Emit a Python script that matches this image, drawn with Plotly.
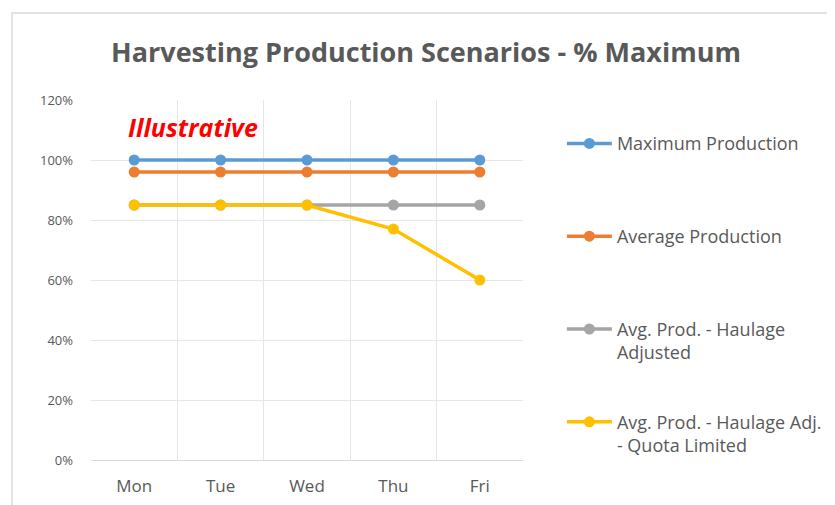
import plotly.graph_objects as go

days = ["Mon", "Tue", "Wed", "Thu", "Fri"]
max_prod = [100, 100, 100, 100, 100]
avg_prod = [96, 96, 96, 96, 96]
haulage_adj = [85, 85, 85, 85, 85]
quota_limited = [85, 85, 85, 77, 60]
y_ticks = [0, 20, 40, 60, 80, 100, 120]
y_tick_text = ["0%", "20%", "40%", "60%", "80%", "100%", "120%"]

series = [
    ("Maximum Production<br> ", max_prod, "#5B9BD5"),
    ("Average Production<br> ", avg_prod, "#ED7D31"),
    ("Avg. Prod. - Haulage<br>Adjusted", haulage_adj, "#A5A5A5"),
    ("Avg. Prod. - Haulage Adj.<br>- Quota Limited", quota_limited, "#FFC000"),
]

FONT = "Open Sans, Lato, sans-serif"
GRAY = "#595959"
fig = go.Figure()
for i, (name, vals, col) in enumerate(series):
    fig.add_trace(go.Scatter(
        x=days, y=vals, name=name, mode="lines+markers",
        line=dict(color=col, width=3.5),
        marker=dict(color=col, size=11),
        legendgroup=f"g{i}",
    ))

fig.update_layout(
    width=835, height=505,
    margin=dict(l=83, r=320, t=92, b=53),
    paper_bgcolor="white", plot_bgcolor="white",
    font=dict(family=FONT, color=GRAY, size=13),
    title=dict(text="<b>Harvesting Production Scenarios - % Maximum</b>",
               x=0.5006, xanchor="center", y=0.911, yanchor="middle",
               font=dict(size=27, color=GRAY, family=FONT)),
    showlegend=True,
    legend=dict(x=1.09, xanchor="left", y=0.93, yanchor="top",
                tracegroupgap=43, valign="top",
                font=dict(size=18, color=GRAY),
                itemwidth=45, bgcolor="rgba(0,0,0,0)"),
    xaxis=dict(type="category", tickson="boundaries", showgrid=True,
               range=[-0.5, 4.5],
               gridcolor="#E6E6E6", gridwidth=1, showline=False,
               ticks="", ticklabelstandoff=14,
               tickfont=dict(size=17, color=GRAY)),
    yaxis=dict(range=[0, 120], tickvals=y_ticks, ticktext=y_tick_text,
               showgrid=True, gridcolor="#E6E6E6", gridwidth=1,
               zeroline=True, zerolinecolor="#D9D9D9", zerolinewidth=1,
               showline=False, ticks="", ticklabelstandoff=17,
               tickfont=dict(size=13, color=GRAY)),
    shapes=[dict(type="rect", xref="paper", yref="paper",
                 x0=-0.1829, x1=2.0, y0=-0.3, y1=1.2417,
                 line=dict(color="#D9D9D9", width=1.5), layer="below")],
    annotations=[dict(text="<b><i>Illustrative</i></b>", xref="paper", yref="paper",
                      x=0.081, y=0.925, xanchor="left", yanchor="middle",
                      showarrow=False,
                      font=dict(size=25, color="#FF0000", family=FONT))],
)

fig.write_html("out.html")
